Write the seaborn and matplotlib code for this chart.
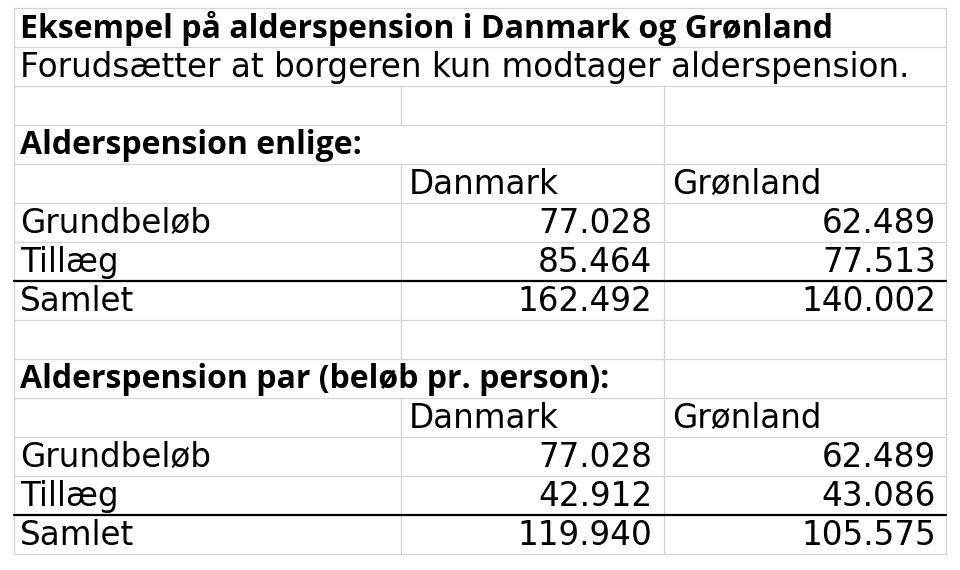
import matplotlib.pyplot as plt
import seaborn as sns

sns.set_theme(style="white")

TITLE = "Eksempel på alderspension i Danmark og Grønland"
SUBTITLE = "Forudsætter at borgeren kun modtager alderspension."
COLUMNS = ["Danmark", "Grønland"]
ROW_LABELS = ["Grundbeløb", "Tillæg", "Samlet"]
SECTIONS = ["Alderspension enlige:", "Alderspension par (beløb pr. person):"]
ENLIGE_DK = ["77.028", "85.464", "162.492"]
ENLIGE_GL = ["62.489", "77.513", "140.002"]
PAR_DK = ["77.028", "42.912", "119.940"]
PAR_GL = ["62.489", "43.086", "105.575"]

W, H = 960, 570
X0, X1, X2, X3 = 14, 401, 664, 946
Y0, RH = 8, 39.0
GRID = "#d4d4d4"
BODY = "DejaVu Sans"
HEAD = "Open Sans"
FS = 23.5
FS_HEAD = 23

fig = plt.figure(figsize=(9.6, 5.7), dpi=100)
ax = fig.add_axes([0, 0, 1, 1])
ax.set_xlim(0, W)
ax.set_ylim(H, 0)
ax.axis("off")

n_rows = 14
ys = [Y0 + i * RH for i in range(n_rows + 1)]

# horizontal grid lines
for y in ys:
    ax.plot([X0, X3], [y, y], color=GRID, lw=0.9)
# vertical outer lines
ax.plot([X0, X0], [ys[0], ys[-1]], color=GRID, lw=0.9)
ax.plot([X3, X3], [ys[0], ys[-1]], color=GRID, lw=0.9)
# inner vertical lines (not in merged title rows, nor through section header overflow)
for i in range(2, n_rows):
    if i not in (3, 9):
        ax.plot([X1, X1], [ys[i], ys[i + 1]], color=GRID, lw=0.9)
    ax.plot([X2, X2], [ys[i], ys[i + 1]], color=GRID, lw=0.9)

def mid(i):
    return (ys[i] + ys[i + 1]) / 2 + 1

ax.text(X0 + 6, mid(0), TITLE, fontsize=FS_HEAD, fontweight="bold", family=HEAD, va="center", color="black")
ax.text(X0 + 6, mid(1), SUBTITLE, fontsize=FS, family=BODY, va="center", color="black")

def block(start, section, dk, gl):
    ax.text(X0 + 6, mid(start), section, fontsize=FS_HEAD, fontweight="bold", family=HEAD, va="center", color="black")
    ax.text(X1 + 8, mid(start + 1), COLUMNS[0], fontsize=FS, family=BODY, va="center", color="black")
    ax.text(X2 + 8, mid(start + 1), COLUMNS[1], fontsize=FS, family=BODY, va="center", color="black")
    for k, (lab, a, b) in enumerate(zip(ROW_LABELS, dk, gl)):
        r = start + 2 + k
        ax.text(X0 + 6, mid(r), lab, fontsize=FS, family=BODY, va="center", color="black")
        ax.text(X2 - 12, mid(r), a, fontsize=FS, family=BODY, va="center", ha="right", color="black")
        ax.text(X3 - 10, mid(r), b, fontsize=FS, family=BODY, va="center", ha="right", color="black")
    ys_line = ys[start + 4]
    ax.plot([X0, X3], [ys_line, ys_line], color="black", lw=1.6)

block(3, SECTIONS[0], ENLIGE_DK, ENLIGE_GL)
block(9, SECTIONS[1], PAR_DK, PAR_GL)

fig.savefig("out.png", dpi=100, facecolor="white")
